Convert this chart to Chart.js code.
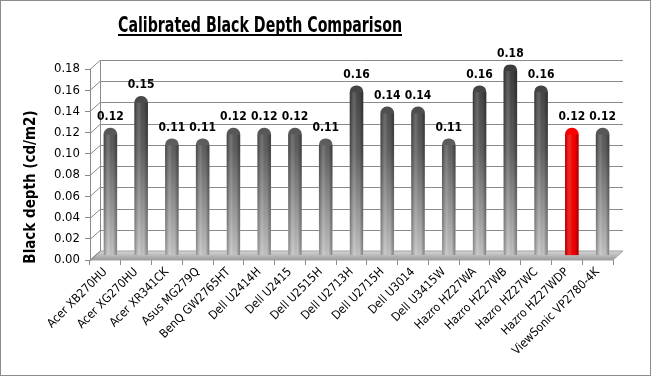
<!DOCTYPE html>
<html lang="en">
  <head>
    <meta charset="utf-8" />
    <title>Calibrated Black Depth Comparison</title>
    <style>
      * {
        margin: 0;
        padding: 0;
      }
      body {
        background: #fff;
      }
      .chartBox {
        width: 649px;
        height: 374px;
        border: 1px solid #8c8c8c;
        background: white;
      }
    </style>
  </head>
  <body>
    <div class="chartBox">
      <canvas id="myChart"></canvas>
    </div>
    <script src="https://cdn.jsdelivr.net/npm/chart.js"></script>
    <script>
      // data
      const chartTitle = 'Calibrated Black Depth Comparison';
      const yTitle = 'Black depth (cd/m2)';
      const monitors = [
        'Acer XB270HU', 'Acer XG270HU', 'Acer XR341CK', 'Asus MG279Q', 'BenQ GW2765HT',
        'Dell U2414H', 'Dell U2415', 'Dell U2515H', 'Dell U2713H', 'Dell U2715H',
        'Dell U3014', 'Dell U3415W', 'Hazro HZ27WA', 'Hazro HZ27WB', 'Hazro HZ27WC',
        'Hazro HZ27WDP', 'ViewSonic VP2780-4K'
      ];
      const blackDepth = [0.12, 0.15, 0.11, 0.11, 0.12, 0.12, 0.12, 0.11, 0.16, 0.14, 0.14, 0.11, 0.16, 0.18, 0.16, 0.12, 0.12];
      const highlighted = ['Hazro HZ27WDP'];
      const yTicks = [0, 0.02, 0.04, 0.06, 0.08, 0.1, 0.12, 0.14, 0.16, 0.18];

      const FONT = "'DejaVu Sans Condensed', 'Open Sans', sans-serif";
      const DX = 10, DY = 9; // 3d depth

      // bar fill: dark top, light bottom
      const barFill = (ctx) => {
        const chart = ctx.chart;
        const area = chart.chartArea;
        if (!area) return '#666';
        const g = chart.ctx.createLinearGradient(0, area.top, 0, area.bottom);
        if (highlighted.includes(monitors[ctx.dataIndex])) {
          g.addColorStop(0, '#ff0000');
          g.addColorStop(1, '#f00000');
        } else {
          g.addColorStop(0, '#3a3a3a');
          g.addColorStop(0.45, '#606060');
          g.addColorStop(1, '#c4c4c4');
        }
        return g;
      };

      // walls, floor and grid in fake 3d
      const depthFrame = {
        id: 'depthFrame',
        beforeDatasetsDraw(chart) {
          const { ctx, chartArea: a, scales } = chart;
          const y = scales.y;
          const y0 = y.getPixelForValue(0);
          ctx.save();
          // floor
          const fg = ctx.createLinearGradient(0, y0 - DY, 0, y0);
          fg.addColorStop(0, '#d6d6d6');
          fg.addColorStop(1, '#9c9c9c');
          ctx.fillStyle = fg;
          ctx.beginPath();
          ctx.moveTo(a.left, y0);
          ctx.lineTo(a.right, y0);
          ctx.lineTo(a.right + DX, y0 - DY);
          ctx.lineTo(a.left + DX, y0 - DY);
          ctx.closePath();
          ctx.fill();
          ctx.strokeStyle = '#a0a0a0';
          ctx.lineWidth = 1;
          ctx.stroke();
          // grid on back + side wall
          ctx.strokeStyle = '#8a8a8a';
          yTicks.forEach((t) => {
            const py = Math.round(y.getPixelForValue(t)) + 0.5;
            ctx.beginPath();
            ctx.moveTo(a.left, py);
            ctx.lineTo(a.left + DX, py - DY);
            if (t > 0) ctx.lineTo(a.right + DX, py - DY);
            ctx.stroke();
          });
          ctx.beginPath();
          ctx.moveTo(a.left + DX + 0.5, y0 - DY);
          ctx.lineTo(a.left + DX + 0.5, y.getPixelForValue(yTicks[yTicks.length - 1]) - DY);
          ctx.stroke();
          // bars stand in the middle of the depth
          ctx.translate(DX / 2, -DY / 2);
        },
        afterDatasetsDraw(chart) {
          const { ctx } = chart;
          const meta = chart.getDatasetMeta(0);
          meta.data.forEach((bar, i) => {
            const w = bar.width;
            const left = bar.x - w / 2;
            // cylinder shading
            const hg = ctx.createLinearGradient(left, 0, left + w, 0);
            hg.addColorStop(0, 'rgba(0,0,0,0.3)');
            hg.addColorStop(0.35, 'rgba(255,255,255,0.15)');
            hg.addColorStop(0.7, 'rgba(0,0,0,0)');
            hg.addColorStop(1, 'rgba(0,0,0,0.35)');
            ctx.fillStyle = hg;
            ctx.fillRect(left, bar.y + w / 2, w, bar.base - bar.y - w / 2);
            // value label
            ctx.fillStyle = '#000';
            ctx.font = "bold 12px " + FONT;
            ctx.textAlign = 'center';
            ctx.textBaseline = 'bottom';
            ctx.fillText(blackDepth[i].toFixed(2), bar.x, bar.y - 5);
          });
          ctx.restore();
        },
      };

      // underlined title (left of centre like the original) and y axis title
      const titles = {
        id: 'titles',
        afterDraw(chart) {
          const { ctx } = chart;
          ctx.save();
          ctx.font = 'bold 21px ' + FONT;
          const w = ctx.measureText(chartTitle).width;
          const targetW = 284;
          ctx.translate(259 - targetW / 2, 31);
          ctx.scale(targetW / w, 1);
          ctx.fillStyle = '#000';
          ctx.textAlign = 'left';
          ctx.textBaseline = 'alphabetic';
          ctx.fillText(chartTitle, 0, 0);
          ctx.fillRect(0, 2, w, 2);
          ctx.restore();

          ctx.save();
          ctx.translate(30, 186);
          ctx.rotate(-Math.PI / 2);
          ctx.font = 'bold 15px ' + FONT;
          ctx.fillStyle = '#000';
          ctx.textAlign = 'center';
          ctx.textBaseline = 'middle';
          ctx.fillText(yTitle, 0, 0);
          ctx.restore();
        },
      };

      const data = {
        labels: monitors,
        datasets: [
          {
            label: 'Black depth',
            data: blackDepth,
            backgroundColor: barFill,
            borderWidth: 0,
            borderRadius: { topLeft: 6.5, topRight: 6.5 },
            borderSkipped: 'bottom',
            barThickness: 13,
          },
        ],
      };

      const config = {
        type: 'bar',
        data,
        options: {
          responsive: false,
          animation: false,
          layout: { padding: { left: 40, right: 37, top: 68, bottom: 0 } },
          plugins: {
            legend: { display: false },
            tooltip: { enabled: false },
            title: { display: false },
          },
          scales: {
            x: {
              offset: true,
              afterFit(scale) { scale.height = 115; },
              grid: { display: true, drawOnChartArea: false, tickLength: 5, color: '#8a8a8a', offset: true },
              border: { display: false },
              ticks: {
                color: '#000',
                font: { family: FONT, size: 12 },
                minRotation: 45,
                maxRotation: 45,
                autoSkip: false,
                padding: 0,
              },
            },
            y: {
              min: 0,
              max: 0.18,
              afterFit(scale) { scale.width = 49; },
              grid: { display: true, drawOnChartArea: false, tickLength: 5, color: '#8a8a8a' },
              border: { display: true, color: '#8a8a8a' },
              ticks: {
                stepSize: 0.02,
                color: '#000',
                font: { family: FONT, size: 13 },
                callback: (v) => v.toFixed(2),
                padding: 5,
              },
            },
          },
        },
        plugins: [depthFrame, titles],
      };

      const canvas = document.getElementById('myChart');
      canvas.width = 649;
      canvas.height = 374;
      const myChart = new Chart(canvas, config);
    </script>
  </body>
</html>
